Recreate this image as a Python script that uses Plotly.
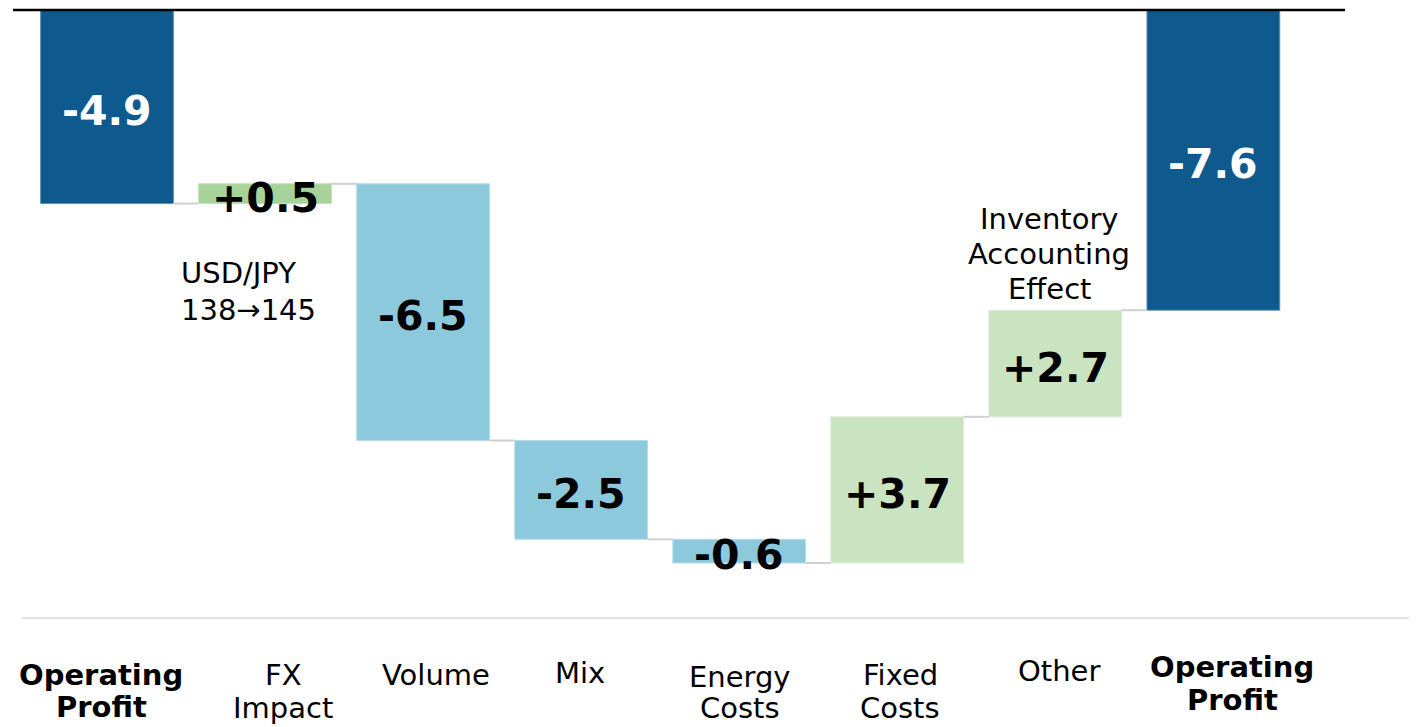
import plotly.graph_objects as go

# ---- data ----
categories = ["Operating Profit", "FX Impact", "Volume", "Mix",
              "Energy Costs", "Fixed Costs", "Other", "Operating Profit"]
category_lines = [["Operating", "Profit"], ["FX", "Impact"], ["Volume"], ["Mix"],
                  ["Energy", "Costs"], ["Fixed", "Costs"], ["Other"], ["Operating", "Profit"]]
values = [-4.9, 0.5, -6.5, -2.5, -0.6, 3.7, 2.7, -7.6]
measures = ["absolute", "relative", "relative", "relative",
            "relative", "relative", "relative", "total"]
value_labels = ["-4.9", "+0.5", "-6.5", "-2.5", "-0.6", "+3.7", "+2.7", "-7.6"]
bar_colors = ["#0E5A8E", "#A7D39A", "#8DC9DC", "#8DC9DC",
              "#8DC9DC", "#CAE3C1", "#CAE3C1", "#0E5A8E"]
edge_colors = ["#5F8FB5", "#C2E0B8", "#B5DCE8", "#B5DCE8",
               "#B5DCE8", "#DDEDD8", "#DDEDD8", "#5F8FB5"]
label_colors = ["white", "black", "black", "black", "black", "black", "black", "white"]
bold_cat = [True, False, False, False, False, False, False, True]
# screen-pixel placement of category label lines
cat_line_y = [[675, 707], [675, 708], [675], [673], [677, 708], [675, 708], [671], [667, 700]]
cat_label_x = [101, 283, 436, 580, 740, 900, 1059, 1232]

# the page body has an 8px margin: the figure starts at screen (8, 8)
OFF = 8
SW, SH = 1417, 727
W, H = SW - OFF, SH - OFF
x_idx = list(range(len(categories)))

# ---- waterfall geometry from data ----
bases, heights, ends = [], [], []
running = 0.0
for v, m in zip(values, measures):
    if m == "absolute":
        b, h = 0.0, v
        running = v
    elif m == "relative":
        b, h = running, v
        running = running + v
    else:
        b, h = 0.0, running
    bases.append(b)
    heights.append(h)
    ends.append(b + h)

# axis ranges: zero at screen y=10, ~39.5px per unit, bars ~158px apart
px_per_unit = 39.5
zero_px = 10 - OFF
y_top = zero_px / px_per_unit
y_bot = -(H - zero_px) / px_per_unit
x_step = 158.05
x0_px = 107 - OFF
x_lo = -x0_px / x_step
x_hi = (W - x0_px) / x_step


def px_to_y(py):  # screen pixel -> data y
    return y_top - (py - OFF) / px_per_unit


def px_to_x(px):  # screen pixel -> data x
    return x_lo + (px - OFF) / x_step


def px_to_paper_y(py):
    return 1 - (py - OFF) / H


def px_to_paper_x(px):
    return (px - OFF) / W


bar_w = 0.84

fig = go.Figure()
fig.add_trace(go.Bar(
    x=x_idx, y=heights, base=bases, width=bar_w,
    marker=dict(color=bar_colors, line=dict(color=edge_colors, width=1)),
    hoverinfo="skip", showlegend=False,
))

shapes = []
# connectors
for i in range(len(values) - 1):
    lvl = ends[i]
    shapes.append(dict(type="line", xref="x", yref="y",
                       x0=i + bar_w / 2, x1=i + 1 - bar_w / 2, y0=lvl, y1=lvl,
                       line=dict(color="#D0D0D0", width=2)))
# top black axis line
shapes.append(dict(type="line", xref="paper", yref="y",
                   x0=max(0, px_to_paper_x(13)), x1=px_to_paper_x(1345), y0=0, y1=0,
                   line=dict(color="black", width=2.5)))
# grey separator above category labels
shapes.append(dict(type="line", xref="paper", yref="paper",
                   x0=px_to_paper_x(22), x1=1.0, y0=px_to_paper_y(618), y1=px_to_paper_y(618),
                   line=dict(color="#D9D9D9", width=1.5)))

annotations = []
# value labels
for i in x_idx:
    mid = bases[i] + heights[i] / 2
    annotations.append(dict(x=i, y=mid, xref="x", yref="y", yshift=-4,
                            text="<b>%s</b>" % value_labels[i], showarrow=False,
                            font=dict(family="DejaVu Sans", size=41, color=label_colors[i]),
                            xanchor="center", yanchor="middle"))
# category labels
for i in x_idx:
    for line, py in zip(category_lines[i], cat_line_y[i]):
        txt = "<b>%s</b>" % line if bold_cat[i] else line
        annotations.append(dict(x=px_to_x(cat_label_x[i]), y=px_to_paper_y(py),
                                xref="x", yref="paper",
                                text=txt, showarrow=False,
                                font=dict(family="DejaVu Sans", size=29, color="black"),
                                xanchor="center", yanchor="middle"))
# notes
fx_note = ["USD/JPY", "138\u2192145"]
for line, py in zip(fx_note, [273, 310]):
    annotations.append(dict(x=px_to_x(179), y=px_to_y(py), xref="x", yref="y",
                            text=line, showarrow=False,
                            font=dict(family="DejaVu Sans", size=29, color="black"),
                            xanchor="left", yanchor="middle"))
inv_note = ["Inventory", "Accounting", "Effect"]
for line, py in zip(inv_note, [219, 254, 289]):
    annotations.append(dict(x=px_to_x(1049), y=px_to_y(py), xref="x", yref="y",
                            text=line, showarrow=False,
                            font=dict(family="DejaVu Sans", size=29, color="black"),
                            xanchor="center", yanchor="middle"))

fig.update_layout(
    width=W, height=H,
    margin=dict(l=0, r=0, t=0, b=0),
    paper_bgcolor="white", plot_bgcolor="white",
    xaxis=dict(range=[x_lo, x_hi], visible=False, fixedrange=True),
    yaxis=dict(range=[y_bot, y_top], visible=False, fixedrange=True),
    shapes=shapes, annotations=annotations,
    showlegend=False,
)

fig.write_html("out.html")
